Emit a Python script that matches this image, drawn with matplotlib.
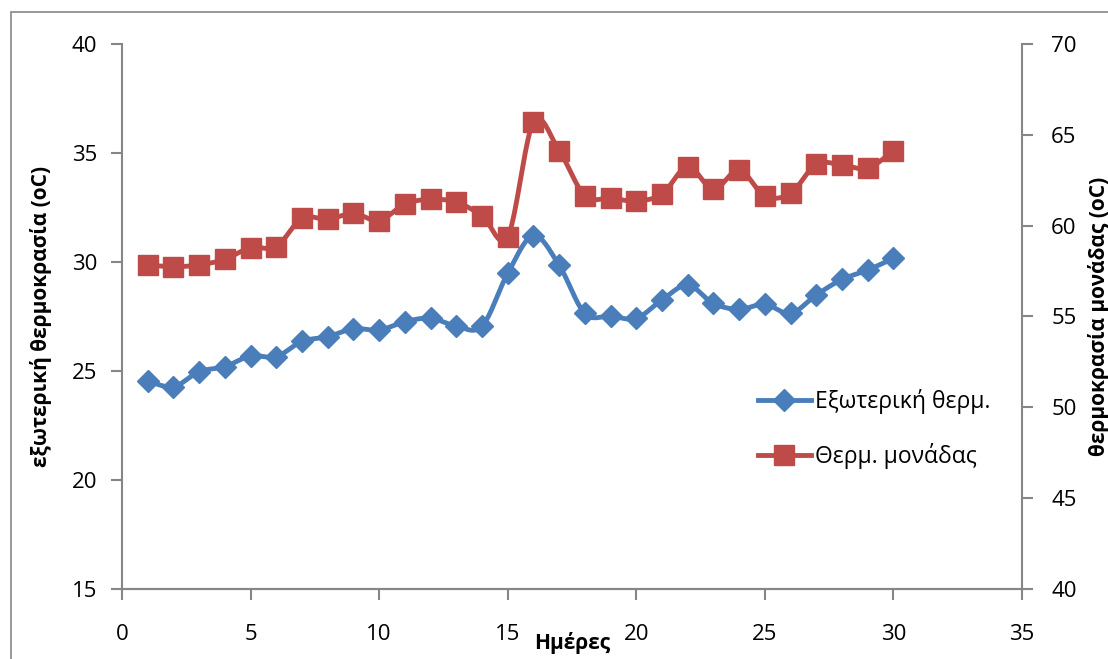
import numpy as np
import matplotlib.pyplot as plt
from matplotlib.lines import Line2D
from matplotlib.patches import Rectangle

plt.rcParams['font.family'] = ['Open Sans', 'DejaVu Sans']

days = list(range(1, 31))
outdoor_temp = [24.54, 24.28, 24.97, 25.20, 25.69, 25.66, 26.36, 26.57, 26.94, 26.88,
                27.26, 27.42, 27.06, 27.06, 29.48, 31.21, 29.85, 27.64, 27.52, 27.42,
                28.26, 28.94, 28.10, 27.83, 28.06, 27.64, 28.49, 29.20, 29.63, 30.17]
unit_temp = [57.84, 57.74, 57.84, 58.15, 58.79, 58.85, 60.41, 60.35, 60.68, 60.28,
             61.19, 61.45, 61.29, 60.55, 59.40, 65.69, 64.13, 61.65, 61.51, 61.36,
             61.74, 63.25, 62.00, 63.07, 61.63, 61.78, 63.38, 63.34, 63.16, 64.13]

BLUE = '#4A7EBB'
RED = '#BE4B48'
GREY = '#868686'


def smooth(x, y, steps=20):
    """Catmull-Rom style bezier through the points (spreadsheet 'smoothed line')."""
    x = np.asarray(x, float)
    y = np.asarray(y, float)
    px = np.concatenate([[x[0]], x, [x[-1]]])
    py = np.concatenate([[y[0]], y, [y[-1]]])
    t = np.linspace(0, 1, steps)[:, None]
    xs, ys = [], []
    for i in range(1, len(px) - 2):
        p0 = np.array([px[i], py[i]])
        p3 = np.array([px[i + 1], py[i + 1]])
        c1 = p0 + (np.array([px[i + 1], py[i + 1]]) - np.array([px[i - 1], py[i - 1]])) / 6
        c2 = p3 - (np.array([px[i + 2], py[i + 2]]) - np.array([px[i], py[i]])) / 6
        seg = ((1 - t) ** 3) * p0 + 3 * ((1 - t) ** 2) * t * c1 + 3 * (1 - t) * t ** 2 * c2 + t ** 3 * p3
        xs.append(seg[:, 0])
        ys.append(seg[:, 1])
    return np.concatenate(xs), np.concatenate(ys)


fig = plt.figure(figsize=(11.08, 6.59), dpi=100)
ax = fig.add_axes([122 / 1108, 1 - 589 / 659, 900 / 1108, 545 / 659])
ax2 = ax.twinx()

# outer chart border
fig.patches.append(Rectangle((11 / 1108, -0.1), 1.2, 1 - 11.5 / 659 + 0.1,
                             transform=fig.transFigure, fill=False,
                             edgecolor=GREY, lw=1.2))

sx, sy = smooth(days, outdoor_temp)
ax.plot(sx, sy, color=BLUE, lw=3.5, solid_capstyle='round', zorder=3)
ax.plot(days, outdoor_temp, ls='none', marker='D', ms=11.5, color=BLUE, zorder=4)

sx, sy = smooth(days, unit_temp)
ax2.plot(sx, sy, color=RED, lw=3.5, solid_capstyle='round', zorder=3)
ax2.plot(days, unit_temp, ls='none', marker='s', ms=14.5, color=RED, zorder=4)

ax.set_xlim(0, 35)
ax.set_ylim(15, 40)
ax2.set_ylim(40, 70)
ax.set_xticks(range(0, 36, 5))
ax.set_yticks(range(15, 41, 5))
ax2.set_yticks(range(40, 71, 5))

for a in (ax, ax2):
    for s in a.spines.values():
        s.set_color(GREY)
        s.set_linewidth(1.5)
    a.spines['top'].set_visible(False)
ax.spines['right'].set_visible(False)
ax2.spines['left'].set_visible(False)

ax.tick_params(axis='y', direction='out', length=8, width=1.5, color=GREY,
               labelsize=16, pad=10)
ax.tick_params(axis='x', direction='out', length=8, width=1.5, color=GREY,
               labelsize=16, pad=17)
ax2.tick_params(axis='y', direction='out', length=8, width=1.5, color=GREY,
                labelsize=16, pad=13)

ax.set_ylabel('εξωτερική θερμοκρασία (oC)', fontsize=15, fontweight='bold', labelpad=14)
ax2.set_ylabel('θερμοκρασία μονάδας (oC)', fontsize=15, fontweight='bold', labelpad=8)
ax.set_xlabel('Ημέρες', fontsize=15, fontweight='bold', labelpad=-9)

handles = [
    Line2D([], [], color=BLUE, lw=3.5, marker='D', ms=11.5),
    Line2D([], [], color=RED, lw=3.5, marker='s', ms=14.5),
]
fig.legend(handles, ['Εξωτερική θερμ.', 'Θερμ. μονάδας'],
           loc='center left', bbox_to_anchor=(758 / 1108, 1 - 429 / 659),
           frameon=False, fontsize=16.5, handlelength=2.3, handletextpad=0.2,
           labelspacing=1.3, borderpad=0, borderaxespad=0)

fig.savefig('out.png', dpi=100)
